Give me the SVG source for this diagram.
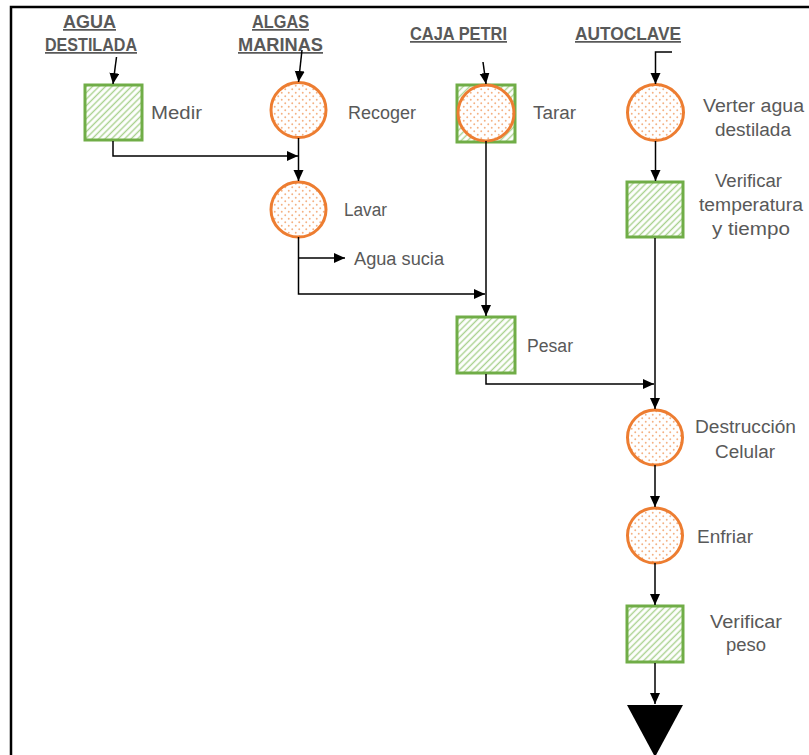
<svg xmlns="http://www.w3.org/2000/svg" width="809" height="755" viewBox="0 0 809 755">
  <style>
    .hdr { font-family: "Liberation Sans", Arial, sans-serif; font-weight: bold; font-size: 17.5px; fill: #595959; text-decoration: underline; }
    .lbl { font-family: "Liberation Sans", Arial, sans-serif; font-size: 18px; fill: #595959; }
    .sq { fill: url(#hatch); stroke: #70AD47; stroke-width: 3; }
    .ci { fill: url(#dots); stroke: #ED7D31; stroke-width: 3; }
    .cn { fill: none; stroke: #000; stroke-width: 1.5; }
  </style>
  <defs>
    <pattern id="hatch" patternUnits="userSpaceOnUse" width="4.6" height="4.6" patternTransform="rotate(-45)">
      <rect width="4.6" height="4.6" fill="#fff"/>
      <line x1="0" y1="2.3" x2="4.6" y2="2.3" stroke="#A9D18E" stroke-width="1.4"/>
    </pattern>
    <pattern id="dots" patternUnits="userSpaceOnUse" width="7" height="7">
      <rect width="7" height="7" fill="#fff"/>
      <circle cx="1.75" cy="1.75" r="0.95" fill="#F4B183"/>
      <circle cx="5.25" cy="5.25" r="0.95" fill="#F4B183"/>
    </pattern>
    <marker id="arr" markerUnits="userSpaceOnUse" markerWidth="12" markerHeight="11" refX="11" refY="5" orient="auto">
      <path d="M0,0 L11,5 L0,10 z" fill="#000"/>
    </marker>
  </defs>

  <!-- frame -->
  <path d="M809,7 H11 V755" fill="none" stroke="#000" stroke-width="2.5"/>

  <!-- inputs -->
  <g id="in-agua">
    <text class="hdr" x="63" y="28" textLength="53" lengthAdjust="spacingAndGlyphs">AGUA</text>
    <text class="hdr" x="45" y="51" textLength="92" lengthAdjust="spacingAndGlyphs">DESTILADA</text>
  </g>
  <g id="in-algas">
    <text class="hdr" x="252" y="28" textLength="57" lengthAdjust="spacingAndGlyphs">ALGAS</text>
    <text class="hdr" x="238" y="51" textLength="85" lengthAdjust="spacingAndGlyphs">MARINAS</text>
  </g>
  <g id="in-petri">
    <text class="hdr" x="410" y="40" textLength="97" lengthAdjust="spacingAndGlyphs">CAJA PETRI</text>
  </g>
  <g id="in-autoclave">
    <text class="hdr" x="575" y="40" textLength="106" lengthAdjust="spacingAndGlyphs">AUTOCLAVE</text>
  </g>

  <!-- process steps -->
  <g id="medir">
    <rect class="sq" x="85" y="85" width="57" height="55"/>
    <text class="lbl" x="151" y="119" textLength="51" lengthAdjust="spacingAndGlyphs">Medir</text>
  </g>
  <g id="recoger">
    <circle class="ci" cx="298.5" cy="110" r="27.5"/>
    <text class="lbl" x="348" y="119" textLength="68" lengthAdjust="spacingAndGlyphs">Recoger</text>
  </g>
  <g id="lavar">
    <circle class="ci" cx="298.5" cy="209.5" r="27.5"/>
    <text class="lbl" x="344" y="216" textLength="43" lengthAdjust="spacingAndGlyphs">Lavar</text>
  </g>
  <g id="agua-sucia">
    <text class="lbl" x="354" y="265" textLength="90" lengthAdjust="spacingAndGlyphs">Agua sucia</text>
  </g>
  <g id="tarar">
    <rect class="sq" x="457" y="85" width="58" height="57"/>
    <circle class="ci" cx="486" cy="113" r="28"/>
    <text class="lbl" x="533" y="119" textLength="43" lengthAdjust="spacingAndGlyphs">Tarar</text>
  </g>
  <g id="pesar">
    <rect class="sq" x="457" y="317" width="58" height="56"/>
    <text class="lbl" x="527" y="352" textLength="46" lengthAdjust="spacingAndGlyphs">Pesar</text>
  </g>
  <g id="verter">
    <circle class="ci" cx="655.5" cy="112.5" r="28"/>
    <text class="lbl" x="703" y="112" textLength="101" lengthAdjust="spacingAndGlyphs">Verter agua</text>
    <text class="lbl" x="715" y="136" textLength="76" lengthAdjust="spacingAndGlyphs">destilada</text>
  </g>
  <g id="verificar-temp">
    <rect class="sq" x="627" y="182" width="56" height="55"/>
    <text class="lbl" x="715" y="187" textLength="67" lengthAdjust="spacingAndGlyphs">Verificar</text>
    <text class="lbl" x="699" y="211" textLength="104" lengthAdjust="spacingAndGlyphs">temperatura</text>
    <text class="lbl" x="712" y="235" textLength="78" lengthAdjust="spacingAndGlyphs">y tiempo</text>
  </g>
  <g id="destruccion">
    <circle class="ci" cx="655" cy="437.5" r="27.5"/>
    <text class="lbl" x="695" y="433" textLength="101" lengthAdjust="spacingAndGlyphs">Destrucción</text>
    <text class="lbl" x="715" y="458" textLength="60" lengthAdjust="spacingAndGlyphs">Celular</text>
  </g>
  <g id="enfriar">
    <circle class="ci" cx="655" cy="535.5" r="27.5"/>
    <text class="lbl" x="697" y="543" textLength="56" lengthAdjust="spacingAndGlyphs">Enfriar</text>
  </g>
  <g id="verificar-peso">
    <rect class="sq" x="627" y="606" width="56" height="56"/>
    <text class="lbl" x="710" y="628" textLength="72" lengthAdjust="spacingAndGlyphs">Verificar</text>
    <text class="lbl" x="726" y="651" textLength="40" lengthAdjust="spacingAndGlyphs">peso</text>
  </g>
  <g id="almacen">
    <path d="M627,705 H683 L655,757 z" fill="#000"/>
  </g>

  <!-- connectors -->
  <g id="connectors">
    <path class="cn" d="M116.5,57 L113,84" marker-end="url(#arr)"/>
    <path class="cn" d="M302,50 L298.5,82" marker-end="url(#arr)"/>
    <path class="cn" d="M483,62 L486,84" marker-end="url(#arr)"/>
    <path class="cn" d="M672,52 H655.5 V84" marker-end="url(#arr)"/>
    <path class="cn" d="M113,141 V156 H298" marker-end="url(#arr)"/>
    <path class="cn" d="M298.5,138 V181" marker-end="url(#arr)"/>
    <path class="cn" d="M298.5,237 V294 H485" marker-end="url(#arr)"/>
    <path class="cn" d="M298.5,258 H345" marker-end="url(#arr)"/>
    <path class="cn" d="M486,141 V316" marker-end="url(#arr)"/>
    <path class="cn" d="M486,374 V384 H654" marker-end="url(#arr)"/>
    <path class="cn" d="M655.5,141 V181" marker-end="url(#arr)"/>
    <path class="cn" d="M655,238 V409" marker-end="url(#arr)"/>
    <path class="cn" d="M655,465 V507" marker-end="url(#arr)"/>
    <path class="cn" d="M655,563 V605" marker-end="url(#arr)"/>
    <path class="cn" d="M655,663 V704" marker-end="url(#arr)"/>
  </g>
</svg>
